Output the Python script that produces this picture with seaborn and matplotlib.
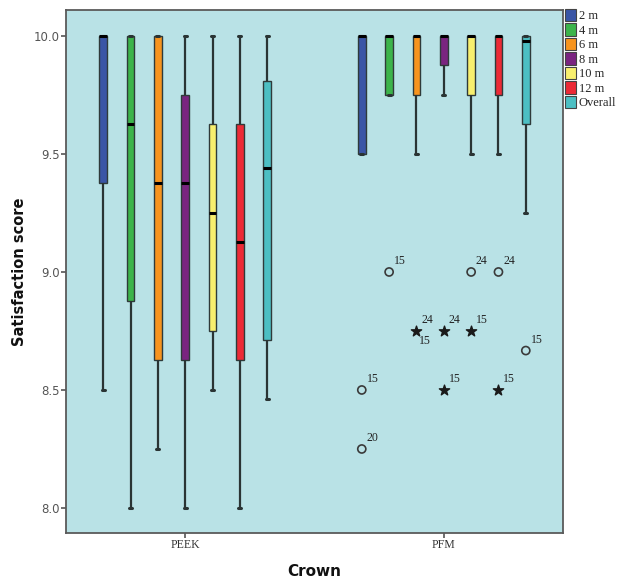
import numpy as np
import pandas as pd
import matplotlib
matplotlib.use("Agg")
import matplotlib.pyplot as plt
from matplotlib.patches import Patch
import seaborn as sns

# ---- data (five-number summaries) ----
crowns = ["PEEK", "PFM"]
times = ["2 m", "4 m", "6 m", "8 m", "10 m", "12 m", "Overall"]

peek_low = [8.5, 8.0, 8.25, 8.0, 8.5, 8.0, 8.46]
peek_q1 = [9.375, 8.875, 8.625, 8.625, 8.75, 8.625, 8.71]
peek_med = [10.0, 9.625, 9.375, 9.375, 9.25, 9.125, 9.44]
peek_q3 = [10.0, 10.0, 10.0, 9.75, 9.625, 9.625, 9.81]
peek_high = [10.0, 10.0, 10.0, 10.0, 10.0, 10.0, 10.0]

pfm_low = [9.5, 9.75, 9.5, 9.75, 9.5, 9.5, 9.25]
pfm_q1 = [9.5, 9.75, 9.75, 9.875, 9.75, 9.75, 9.625]
pfm_med = [10.0, 10.0, 10.0, 10.0, 10.0, 10.0, 9.98]
pfm_q3 = [10.0, 10.0, 10.0, 10.0, 10.0, 10.0, 10.0]
pfm_high = [10.0, 10.0, 10.0, 10.0, 10.0, 10.0, 10.0]

# PFM outliers: (time index, value, marker kind, case label)
out_time = [0, 0, 1, 2, 3, 3, 4, 4, 5, 5, 6]
out_value = [8.5, 8.25, 9.0, 8.75, 8.75, 8.5, 9.0, 8.75, 9.0, 8.5, 8.667]
out_kind = ["o", "o", "o", "*", "*", "*", "o", "*", "o", "*", "o"]
out_label = ["15", "20", "15", "24", "24", "15", "24", "15", "24", "15", "15"]
extra_label_time = [2]   # second label under the 6 m star
extra_label_value = [8.75]
extra_label_text = ["15"]

colors = ["#3a55a6", "#3cb44b", "#f7941e", "#7a2480", "#f8ef6e", "#ec2a36", "#4cbfc3"]

rows = []
for ci, (lo, q1, md, q3, hi) in enumerate([
        (peek_low, peek_q1, peek_med, peek_q3, peek_high),
        (pfm_low, pfm_q1, pfm_med, pfm_q3, pfm_high)]):
    for ti, t in enumerate(times):
        for v in (lo[ti], q1[ti], md[ti], q3[ti], hi[ti]):
            rows.append({"Crown": crowns[ci], "Time": t, "Score": v})
df = pd.DataFrame(rows)

sns.set_theme(style="white")
plt.rcParams["font.family"] = ["DejaVu Sans"]

fig = plt.figure(figsize=(6.32, 5.84), dpi=100)
ax = fig.add_axes([66 / 632, 1 - 533 / 584, (563 - 66) / 632, (533 - 10) / 584])
ax.set_facecolor("#b9e2e6")

WIDTH = 0.74
sns.boxplot(data=df, x="Crown", y="Score", hue="Time", order=crowns,
            hue_order=times, palette=colors, width=WIDTH, gap=0.72,
            whis=(0, 100), dodge=True, saturation=1, ax=ax,
            linecolor="#2f3a3a", linewidth=1.0, legend=False,
            medianprops=dict(color="black", linewidth=2.2),
            whiskerprops=dict(color="#2a3434", linewidth=1.6),
            capprops=dict(color="#2a3434", linewidth=2.2),
            capwidths=0.012)

# outliers
step = WIDTH / len(times)
for ti, v, k, lab in zip(out_time, out_value, out_kind, out_label):
    x = 1 + (ti - 3) * step
    if k == "o":
        ax.scatter([x], [v], marker="o", s=34, facecolors="none",
                   edgecolors="#3a3a3a", linewidths=1.2, zorder=5)
    else:
        ax.scatter([x], [v], marker="*", s=60, color="#1a1a1a", zorder=5)
    ax.annotate(lab, (x, v), xytext=(3.5, 3.5), textcoords="offset points",
                ha="left", va="bottom", fontsize=8.5,
                family="Liberation Serif", color="#222222")
for ti, v, lab in zip(extra_label_time, extra_label_value, extra_label_text):
    x = 1 + (ti - 3) * step
    ax.annotate(lab, (x, v), xytext=(2, -3), textcoords="offset points",
                ha="left", va="top", fontsize=8.5,
                family="Liberation Serif", color="#222222")

ax.set_xlim(-0.461, 1.461)
ax.set_ylim(7.894, 10.110)
ax.set_yticks([8.0, 8.5, 9.0, 9.5, 10.0])
ax.set_yticklabels(["8.0", "8.5", "9.0", "9.5", "10.0"], fontsize=8.5, color="#555555")
ax.set_xticks([0, 1])
ax.set_xticklabels(crowns, fontsize=8.5, family="Liberation Serif", color="#333333")
ax.tick_params(axis="both", length=3.5, width=1.2, color="#555555", direction="out",
               left=True, bottom=True, pad=1)
for s in ax.spines.values():
    s.set_color("#5a5a5a")
    s.set_linewidth(1.3)

ax.set_xlabel("Crown", fontsize=11, fontweight="bold", labelpad=9, color="#111111")
ax.set_ylabel("Satisfaction score", fontsize=10.5, fontweight="bold", labelpad=5, color="#111111")

handles = [Patch(facecolor=c, edgecolor="#444444", linewidth=0.8) for c in colors]
fig.legend(handles, times, loc="upper left", bbox_to_anchor=(565 / 632, 1 - 9 / 584),
           frameon=False, borderpad=0, borderaxespad=0, handlelength=0.85,
           handleheight=1.15, handletextpad=0.25, labelspacing=0.08,
           prop={"family": "Liberation Serif", "size": 9})

fig.savefig("out.png", dpi=100)
